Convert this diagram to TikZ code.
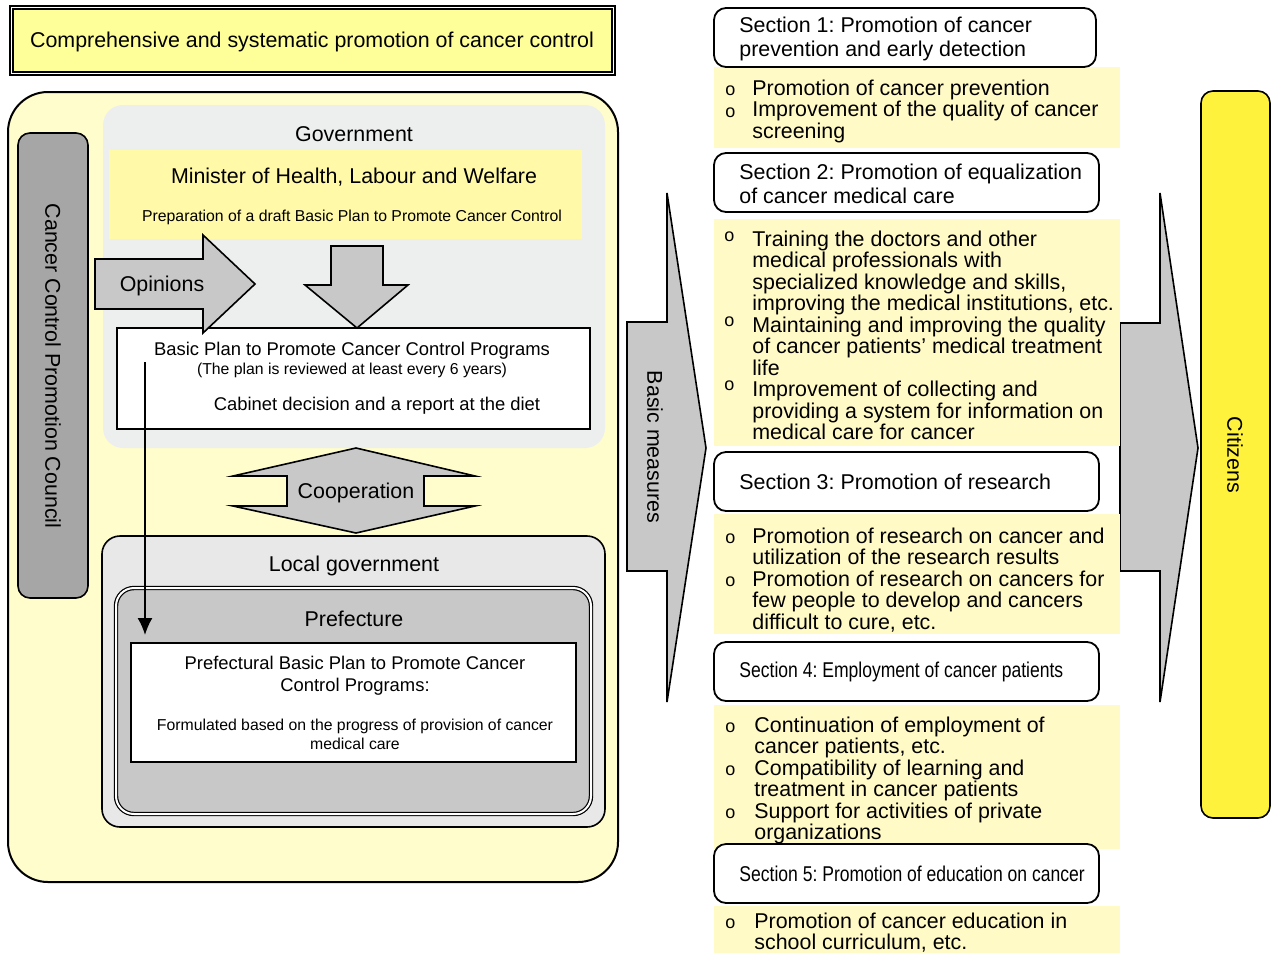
\documentclass[tikz,border=0pt]{standalone}
\usepackage{fontspec}
\setmainfont{Liberation Sans}
\newfontfamily\narrowsans[FakeStretch=0.82]{Liberation Sans}
\usetikzlibrary{arrows.meta}
\definecolor{paleyel}{HTML}{FFFDCC}
\definecolor{titleyel}{HTML}{FFFF99}
\definecolor{minyel}{HTML}{FFF9A8}
\definecolor{bulyel}{HTML}{FFFAC6}
\definecolor{citiyel}{HTML}{FFF23C}
\definecolor{govgray}{HTML}{EDEFEE}
\definecolor{locgray}{HTML}{E8E8E8}
\definecolor{arrgray}{HTML}{C8C8C8}
\definecolor{bargray}{HTML}{A6A6A6}
\newcommand{\mainsize}{\fontsize{10.7}{12}\selectfont}
\newcommand{\bulsize}{\fontsize{10.7}{10.75}\selectfont}
\newcommand{\plansize}{\fontsize{9.2}{11}\selectfont}
\newcommand{\notesize}{\fontsize{7.9}{9.6}\selectfont}
\frenchspacing

\begin{document}
\begin{tikzpicture}[x=0.5pt,y=-0.5pt,>=Latex,font=\mainsize,
  blk/.style={draw,line width=0.8pt,fill=arrgray,line join=miter},
  secbox/.style={draw,line width=0.9pt,rounded corners=6pt,fill=white},
  sectext/.style={anchor=west,align=left,inner sep=0pt},
  bultext/.style={anchor=north west,align=left,inner sep=0pt,font=\bulsize},
  bulletmark/.style={anchor=base west,inner sep=0pt,font=\fontsize{9}{9}\selectfont}]
 \useasboundingbox (0,0) rectangle (1273,954);

 % left half
 \draw[double,double distance=0.9pt,line width=0.6pt,fill=titleyel] (11.5,7.5) rectangle (613.5,73.5);
 \node (title) at (312,42) {Comprehensive and systematic promotion of cancer control};
 \draw[line width=1pt,rounded corners=20pt,fill=paleyel] (8,92) rectangle (618,882);
 \draw[line width=0.8pt,rounded corners=6pt,fill=bargray] (18,133) rectangle (88,598);
 \node[rotate=-90] (council) at (53,366) {Cancer Control Promotion Council};

 \fill[govgray,rounded corners=10pt] (103,105) rectangle (605,448);
 \node (gov) at (354,134) {Government};
 \fill[minyel] (109,150) rectangle (582,239);
 \node (minister) at (354,177) {Minister of Health, Labour and Welfare};
 \node[font=\notesize] (draft) at (352,217) {Preparation of a draft Basic Plan to Promote Cancer Control};

 \draw[line width=0.8pt,fill=white] (117,328) rectangle (590,429);
 \node[font=\plansize] (plan) at (352,350.5) {Basic Plan to Promote Cancer Control Programs};
 \node[font=\notesize] (review) at (352,370.5) {(The plan is reviewed at least every 6 years)};
 \node[font=\plansize] (cabinet) at (377,405.5) {Cabinet decision and a report at the diet};

 \draw[blk] (95,259) -- (203,259) -- (203,235) -- (255,284) -- (203,333) -- (203,309) -- (95,309) -- cycle;
 \node (opinions) at (162,285.5) {Opinions};
 \draw[blk] (331,246) -- (383,246) -- (383,285) -- (408,285) -- (357,328) -- (305,285) -- (331,285) -- cycle;

 \draw[blk] (356,448) -- (475,476) -- (424,476) -- (424,506) -- (475,506) -- (356,533)
   -- (233,506) -- (287,506) -- (287,476) -- (233,476) -- cycle;
 \node (coop) at (356,492.5) {Cooperation};

 \draw[line width=0.8pt,rounded corners=9pt,fill=locgray] (102,536) rectangle (605,827);
 \node (local) at (354,565.5) {Local government};
 \draw[double,double distance=1pt,line width=0.6pt,rounded corners=9pt,fill=arrgray] (116,588) rectangle (591,814);
 \node (pref) at (354,618.5) {Prefecture};
 \draw[line width=0.8pt,fill=white] (131,643) rectangle (576,762);
 \node[font=\plansize,align=center] (prefplan) at (355,676) {Prefectural Basic Plan to Promote Cancer\\Control Programs:};
 \node[font=\notesize,align=center] (formulated) at (355,734) {Formulated based on the progress of provision of cancer\\medical care};

 \coordinate (planfoot) at (145,362);
 \coordinate (preffoot) at (145,635);
 \draw[-{Latex[length=8.5pt,width=7.5pt]},line width=0.8pt] (planfoot) -- (preffoot);

 % right half
 \draw[blk] (1120,323) -- (1160,323) -- (1160,193) -- (1198,448) -- (1160,702) -- (1160,571) -- (1120,571) -- cycle;
 \draw[blk] (627,322) -- (667,322) -- (667,193) -- (706,448) -- (667,702) -- (667,571) -- (627,571) -- cycle;
 \node[rotate=-90] (measures) at (655,447) {Basic measures};

 \draw[line width=0.8pt,rounded corners=6pt,fill=citiyel] (1201,91) rectangle (1270,818);
 \node[rotate=-90] (citizens) at (1235,455) {Citizens};

 \foreach \t/\b in {67/148,219/446,514/634,705/849,906/953}
   \fill[bulyel] (714,\t) rectangle (1120,\b);
 \foreach \t/\r in {8/1096,153/1099,452/1099,642/1099}
   \draw[secbox] (714,\t) rectangle (\r,\t+59);

 \node[sectext] (sec1) at (739,39) {Section 1: Promotion of cancer\\prevention and early detection};
 \node[sectext] (sec2) at (739,184) {Section 2: Promotion of equalization\\of cancer medical care};
 \node[sectext] (sec3) at (739,482) {Section 3: Promotion of research};
 \node[sectext,font=\narrowsans\mainsize] (sec4) at (739,672) {Section 4: Employment of cancer patients};

 \node[bultext] (items1) at (752,79.5) {Promotion of cancer prevention\\Improvement of the quality of cancer\\screening};
 \node[bultext] (items2) at (752,230.5) {Training the doctors and other\\medical professionals with\\specialized knowledge and skills,\\improving the medical institutions, etc.\\Maintaining and improving the quality\\of cancer patients' medical treatment\\life\\Improvement of collecting and\\providing a system for information on\\medical care for cancer};
 \node[bultext] (items3) at (752,527.5) {Promotion of research on cancer and\\utilization of the research results\\Promotion of research on cancers for\\few people to develop and cancers\\difficult to cure, etc.};
 \node[bultext] (items4) at (754,716.5) {Continuation of employment of\\cancer patients, etc.\\Compatibility of learning and\\treatment in cancer patients\\Support for activities of private\\organizations};
 \node[bultext] (items5) at (754,912.5) {Promotion of cancer education in\\school curriculum, etc.};

 \foreach \y in {95,117,543,586,732,775,818,928}
   \node[bulletmark] (o\y) at (725,\y) {o};
 \foreach \y in {241,326,390}
   \node[bulletmark] (o\y) at (724,\y) {o};

 % section 5 lies over the last line of section 4
 \draw[secbox] (714,844) rectangle (1099,903);
 \node[sectext,font=\narrowsans\mainsize] (sec5) at (739,874) {Section 5: Promotion of education on cancer};
\end{tikzpicture}
\end{document}
